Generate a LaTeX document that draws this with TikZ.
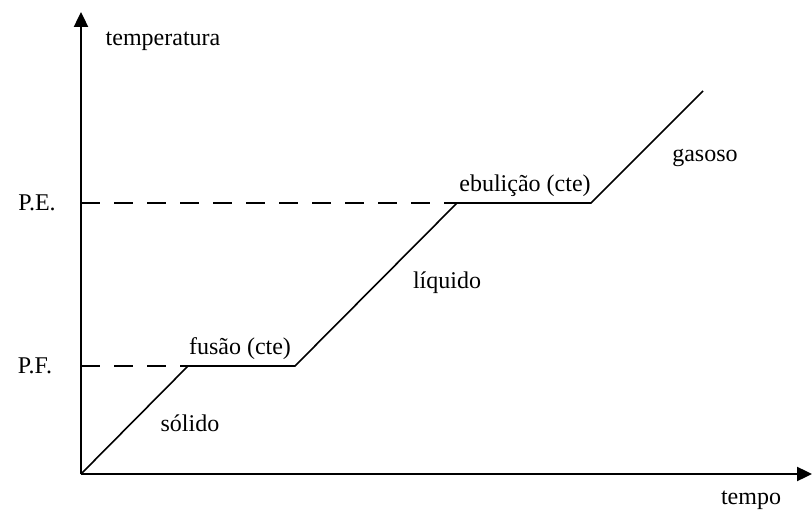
\documentclass[tikz,border=0pt]{standalone}
\usepackage{fontspec}
\setmainfont{Liberation Serif}
\usetikzlibrary{arrows.meta}
\tikzset{
	eixo/.style={line width=2.4pt, -{Triangle[length=15pt,width=14pt]}},
	curva/.style={line width=1.6pt},
	nivel/.style={line width=2.2pt, dash pattern=on 19pt off 14pt},
	rotulo/.style={inner sep=0pt, font=\fontsize{24}{26}\selectfont}
}
\begin{document}
\begin{tikzpicture}[x=1pt,y=1pt]
		\useasboundingbox (0,0) rectangle (812,515);

		% pontos da curva de aquecimento
		\coordinate (O) at ( 81, 41 );
		\coordinate (topo) at ( 81, 503 );
		\coordinate (fim) at ( 812, 41 );
		\coordinate (pf) at ( 81, 149 );
		\coordinate (pe) at ( 81, 312 );
		\coordinate (A) at ( 188, 149 );
		\coordinate (B) at ( 295, 149 );
		\coordinate (C) at ( 457, 312 );
		\coordinate (D) at ( 591, 312 );
		\coordinate (E) at ( 703, 424 );

		% eixos
		\draw [eixo] (O) -- (topo);
		\draw [eixo] (O) -- (fim);
		\node [rotulo] (temp) at ( 163, 474 ) {temperatura};
		\node [rotulo] (tempo) at ( 751, 15 ) {tempo};

		% niveis P.F. e P.E.
		\draw [nivel] (pf) -- (A);
		\draw [nivel] (pe) -- (C);
		\node [rotulo] (npf) at ( 35, 149 ) {P.F.};
		\node [rotulo] (npe) at ( 37, 312 ) {P.E.};

		% curva
		\draw [curva] (O) -- (A) -- (B) -- (C) -- (D) -- (E);

		% fases
		\node [rotulo] (solido) at ( 190, 92 ) {sólido};
		\node [rotulo] (fusao) at ( 240, 166 ) {fusão (cte)};
		\node [rotulo] (liquido) at ( 447, 232 ) {líquido};
		\node [rotulo] (ebulicao) at ( 525, 329 ) {ebulição (cte)};
		\node [rotulo] (gasoso) at ( 705, 357 ) {gasoso};
	\end{tikzpicture}
\end{document}
